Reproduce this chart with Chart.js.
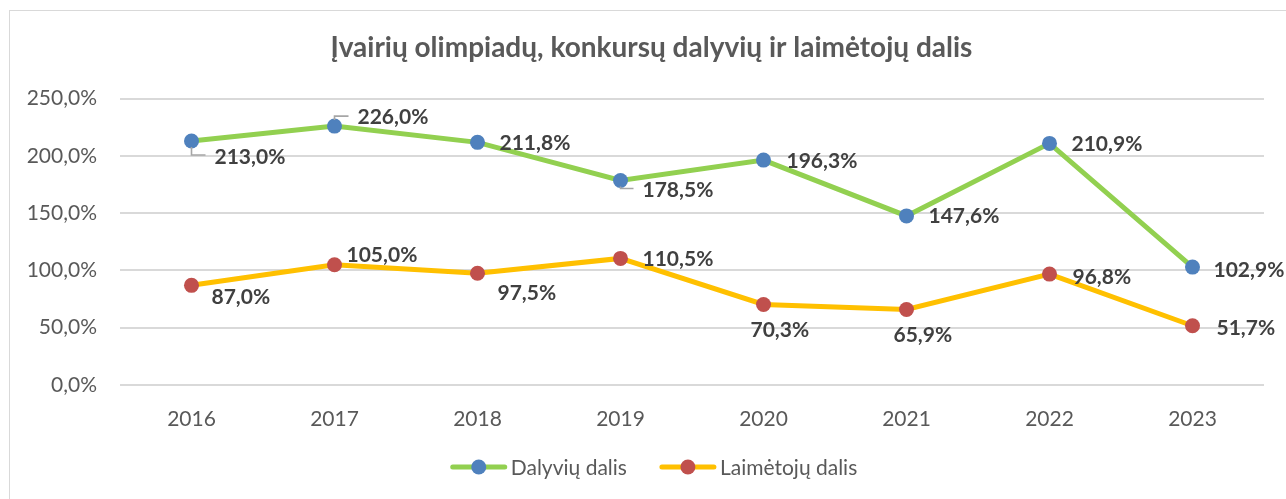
<!DOCTYPE html>
<html>
<head>
<meta charset="utf-8">
<script src="https://cdn.jsdelivr.net/npm/chart.js"></script>
<style>
  html, body { margin: 0; padding: 0; background: #fff; overflow: hidden; }
  #wrap { position: relative; width: 1286px; height: 499px; }
  #frame { position: absolute; left: 9px; top: 10px; width: 1300px; height: 600px; border: 1px solid #d9d9d9; }
  #grafikas { position: absolute; left: 0; top: 0; }
</style>
</head>
<body>
<div id="wrap">
  <div id="frame"></div>
  <canvas id="grafikas" width="1286" height="499"></canvas>
</div>
<script>
const metai = ['2016', '2017', '2018', '2019', '2020', '2021', '2022', '2023'];
const dalyviai = [213.0, 226.0, 211.8, 178.5, 196.3, 147.6, 210.9, 102.9];
const laimetojai = [87.0, 105.0, 97.5, 110.5, 70.3, 65.9, 96.8, 51.7];
const yTicks = [0, 50, 100, 150, 200, 250];

// kur deti reiksmiu uzrasus (dx iki teksto pradzios, dy iki teksto vidurio)
const dalyviuPoz = [[23, 15, 'down'], [23, -10, 'up'], [22, 0], [22, 9, 'down'], [23, 0], [22, -1], [22, 0], [21, 2]];
const laimetojuPoz = [[20, 11], [12, -10], [20, 19], [22, 0], [-13, 25], [-13, 25], [23, 2], [24, 1]];

const pilka = '#595959';
const fmt = v => v.toFixed(1).replace('.', ',') + '%';

const reiksmes = {
    id: 'reiksmes',
    afterDatasetsDraw(chart) {
        const ctx = chart.ctx;
        const pozicijos = [dalyviuPoz, laimetojuPoz];
        ctx.save();
        chart.data.datasets.forEach((ds, di) => {
            const meta = chart.getDatasetMeta(di);
            meta.data.forEach((pt, i) => {
                const p = pozicijos[di][i];
                const tx = pt.x + p[0];
                const ty = pt.y + p[1];
                if (p[2]) {
                    const ly = p[2] === 'down' ? ty - 1 : ty;
                    ctx.strokeStyle = '#a6a6a6';
                    ctx.lineWidth = 1.6;
                    ctx.beginPath();
                    ctx.moveTo(pt.x, pt.y + (p[2] === 'down' ? 6 : -6));
                    ctx.lineTo(pt.x, ly);
                    ctx.lineTo(tx - 9, ly);
                    ctx.stroke();
                }
                ctx.font = 'bold 21px Lato';
                ctx.fillStyle = '#404040';
                ctx.textAlign = 'left';
                ctx.textBaseline = 'middle';
                ctx.fillText(fmt(ds.data[i]), tx, ty + 1);
            });
        });
        ctx.restore();
    }
};

// pavadinima centruoti kaip originale
const pavadinimas = {
    id: 'pavadinimas',
    afterLayout(chart) {
        if (chart.titleBlock) {
            chart.titleBlock.left = 39;
            chart.titleBlock.right = 1264;
        }
    }
};

// legenda: linija su tasku ir pavadinimas
const legenda = {
    id: 'legenda',
    afterDraw(chart) {
        const ctx = chart.ctx;
        ctx.save();
        ctx.font = '21px Lato';
        const y = 467;
        const items = chart.data.datasets.map(ds => ({ ds, w: 56 + 4 + ctx.measureText(ds.label).width }));
        const gap = 33;
        const total = items.reduce((s, it) => s + it.w, 0) + gap * (items.length - 1);
        let x = 654 - total / 2;
        items.forEach(it => {
            ctx.strokeStyle = it.ds.borderColor;
            ctx.lineWidth = 5;
            ctx.lineCap = 'round';
            ctx.beginPath();
            ctx.moveTo(x + 2, y);
            ctx.lineTo(x + 54, y);
            ctx.stroke();
            ctx.fillStyle = it.ds.pointBackgroundColor;
            ctx.beginPath();
            ctx.arc(x + 28, y, 7.5, 0, Math.PI * 2);
            ctx.fill();
            ctx.fillStyle = pilka;
            ctx.textAlign = 'left';
            ctx.textBaseline = 'middle';
            ctx.fillText(it.ds.label, x + 60, y + 1);
            x += it.w + gap;
        });
        ctx.restore();
    }
};

const ctx = document.getElementById('grafikas').getContext('2d');
new Chart(ctx, {
    type: 'line',
    data: {
        labels: metai,
        datasets: [{
            label: 'Dalyvių dalis',
            data: dalyviai,
            borderColor: '#92d050',
            borderWidth: 5,
            pointBackgroundColor: '#4f81bd',
            pointBorderColor: '#4f81bd',
            pointRadius: 7.5,
            pointBorderWidth: 0,
            tension: 0
        }, {
            label: 'Laimėtojų dalis',
            data: laimetojai,
            borderColor: '#ffc000',
            borderWidth: 5,
            pointBackgroundColor: '#c0504d',
            pointBorderColor: '#c0504d',
            pointRadius: 7.5,
            pointBorderWidth: 0,
            tension: 0
        }]
    },
    options: {
        responsive: false,
        animation: false,
        devicePixelRatio: 1,
        layout: { padding: { left: 0, right: 22, top: 0, bottom: 0 } },
        plugins: {
            legend: { display: false },
            tooltip: { enabled: false },
            title: {
                display: true,
                text: 'Įvairių olimpiadų, konkursų dalyvių ir laimėtojų dalis',
                color: pilka,
                font: { family: 'Lato', size: 28, weight: 'bold' },
                padding: { top: 31, bottom: 34 }
            }
        },
        scales: {
            x: {
                offset: true,
                grid: { display: false, drawTicks: false },
                border: { display: false },
                ticks: { color: pilka, font: { family: 'Lato', size: 21 }, padding: 22 },
                afterFit: s => { s.height = 114; }
            },
            y: {
                min: 0,
                max: 250,
                afterBuildTicks: s => { s.ticks = yTicks.map(v => ({ value: v })); },
                grid: { color: '#d9d9d9', lineWidth: 2, drawTicks: false },
                border: { display: false },
                ticks: { color: pilka, font: { family: 'Lato', size: 21 }, padding: 23, callback: v => fmt(v) },
                afterFit: s => { s.width = 120; }
            }
        }
    },
    plugins: [pavadinimas, reiksmes, legenda]
});
</script>
</body>
</html>
